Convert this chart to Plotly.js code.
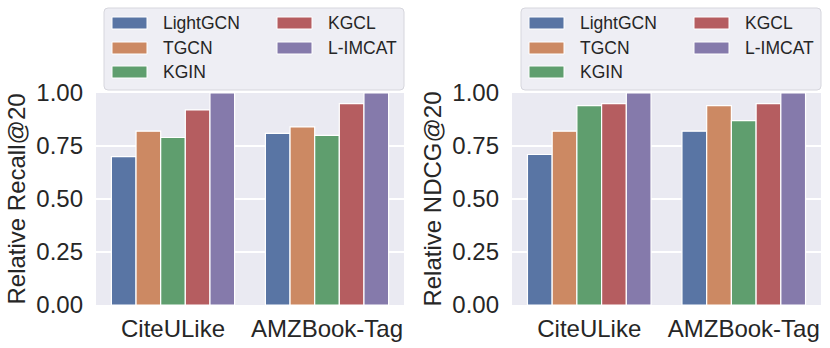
<!DOCTYPE html>
<html>
<head>
<meta charset="utf-8">
<script src="https://cdn.plot.ly/plotly-3.0.1.min.js"></script>
<style>
  html, body { margin: 0; padding: 0; background: #fff; }
  #chart { width: 830px; height: 348px; }
</style>
</head>
<body>
<div id="chart"></div>
<script>
const datasets = ["CiteULike", "AMZBook-Tag"];
const methods = ["LightGCN", "TGCN", "KGIN", "KGCL", "L-IMCAT"];
const colors = ["#5975a4", "#cc8963", "#5f9e6e", "#b55d60", "#857aab"];

// relative scores, one row per method: [CiteULike, AMZBook-Tag]
const recall = [
  [0.70, 0.81],
  [0.82, 0.84],
  [0.79, 0.80],
  [0.92, 0.95],
  [1.00, 1.00]
];
const ndcg = [
  [0.71, 0.82],
  [0.82, 0.94],
  [0.94, 0.87],
  [0.95, 0.95],
  [1.00, 1.00]
];

const W = 830, H = 348;
const FONT = "Liberation Sans, Arial, Helvetica, sans-serif";
const TEXT = "#262626";

const px = x => x / W;
const py = y => 1 - y / H;

function barTraces(values, xa, ya) {
  return methods.map((name, i) => ({
    type: "bar",
    name,
    x: datasets,
    y: values[i],
    xaxis: xa,
    yaxis: ya,
    marker: { color: colors[i], line: { color: "#ffffff", width: 1.2 } },
    showlegend: false,
    hovertemplate: name + "<br>%{x}: %{y}<extra></extra>"
  }));
}

// rounded legend frame drawn in paper coords
function roundRect(x0, y0, x1, y1, r) {
  const X = px, Y = py;
  return [
    `M${X(x0 + r)},${Y(y0)}`,
    `L${X(x1 - r)},${Y(y0)}`,
    `Q${X(x1)},${Y(y0)} ${X(x1)},${Y(y0 + r)}`,
    `L${X(x1)},${Y(y1 - r)}`,
    `Q${X(x1)},${Y(y1)} ${X(x1 - r)},${Y(y1)}`,
    `L${X(x0 + r)},${Y(y1)}`,
    `Q${X(x0)},${Y(y1)} ${X(x0)},${Y(y1 - r)}`,
    `L${X(x0)},${Y(y0 + r)}`,
    `Q${X(x0)},${Y(y0)} ${X(x0 + r)},${Y(y0)}`,
    "Z"
  ].join(" ");
}

function legendParts(left) {
  const shapes = [{
    type: "path", xref: "paper", yref: "paper",
    path: roundRect(left, 8, left + 300, 90, 4),
    fillcolor: "#eeeef4", line: { color: "#d6d6dd", width: 1 }, layer: "above"
  }];
  const annotations = [];
  const rows = [23, 48, 72];
  methods.forEach((name, i) => {
    const col = i < 3 ? 0 : 1;
    const row = i < 3 ? i : i - 3;
    const hx = left + 8 + col * 165;
    const cy = rows[row];
    shapes.push({
      type: "rect", xref: "paper", yref: "paper",
      x0: px(hx), x1: px(hx + 35), y0: py(cy - 6), y1: py(cy + 6),
      fillcolor: colors[i], line: { color: "#ffffff", width: 1 }, layer: "above"
    });
    annotations.push({
      xref: "paper", yref: "paper", x: px(hx + 49), y: py(cy),
      xanchor: "left", yanchor: "middle", showarrow: false,
      text: name, font: { family: FONT, size: 17.5, color: TEXT }
    });
  });
  return { shapes, annotations };
}

const legL = legendParts(104);
const legR = legendParts(521);

const yDomain = [43 / H, 255 / H];

function yAxis(title, anchor) {
  return {
    anchor,
    domain: yDomain,
    range: [0, 1],
    tickvals: [0, 0.25, 0.5, 0.75, 1],
    tickformat: ".2f",
    showgrid: true,
    gridcolor: "#ffffff",
    gridwidth: 1.5,
    zeroline: false,
    showline: false,
    ticks: "",
    ticklen: 0,
    ticklabelstandoff: 12,
    tickfont: { family: FONT, size: 24, color: TEXT },
    title: { text: title, font: { family: FONT, size: 24, color: TEXT }, standoff: 3 },
    automargin: false
  };
}

function xAxis(domain, anchor) {
  return {
    anchor,
    domain,
    type: "category",
    showgrid: false,
    zeroline: false,
    showline: true,
    linecolor: "#ffffff",
    linewidth: 1.5,
    mirror: true,
    ticks: "",
    ticklabelstandoff: 2,
    tickfont: { family: FONT, size: 24, color: TEXT },
    automargin: false
  };
}

const layout = {
  width: W,
  height: H,
  margin: { l: 0, r: 0, t: 0, b: 0 },
  paper_bgcolor: "#ffffff",
  plot_bgcolor: "#eaeaf2",
  barmode: "group",
  bargap: 0.2,
  bargroupgap: 0,
  showlegend: false,
  xaxis: xAxis([96 / W, 404 / W], "y"),
  yaxis: yAxis("Relative Recall@20", "x"),
  xaxis2: xAxis([512 / W, 821 / W], "y2"),
  yaxis2: yAxis("Relative NDCG@20", "x2"),
  shapes: [...legL.shapes, ...legR.shapes],
  annotations: [...legL.annotations, ...legR.annotations]
};

const traces = [...barTraces(recall, "x", "y"), ...barTraces(ndcg, "x2", "y2")];

Plotly.newPlot("chart", traces, layout, { displayModeBar: false, staticPlot: true });
</script>
</body>
</html>
